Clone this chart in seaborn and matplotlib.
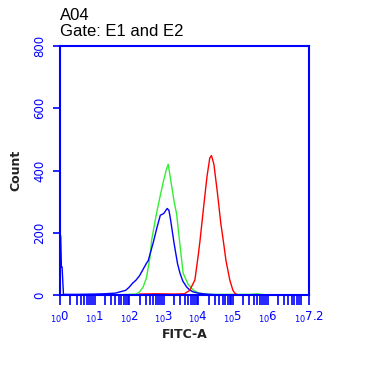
import numpy as np
import pandas as pd
from matplotlib import pyplot as plt
import seaborn as sns

blue_x = [0.0, 0.02, 0.04, 0.06, 0.1, 0.5, 1.0, 1.3, 1.6, 1.7, 1.8, 1.9, 2.0, 2.1, 2.2, 2.3,
          2.4, 2.5, 2.55, 2.6, 2.7, 2.8, 2.9, 3.0, 3.05, 3.1, 3.15, 3.2, 3.3, 3.4, 3.47,
          3.55, 3.66, 3.75, 3.85, 4.0, 4.2, 4.5, 5.0]
blue_y = [190, 190, 90, 90, 2, 2, 3, 4, 6, 9, 12, 15, 25, 38, 48, 62,
          82, 102, 110, 130, 170, 215, 256, 262, 270, 278, 272, 240, 165, 100, 70,
          45, 26, 16, 10, 6, 3, 1, 0]

green_x = [1.5, 2.2, 2.3, 2.4, 2.5, 2.6, 2.65, 2.72, 2.79, 2.9, 3.0, 3.08, 3.13, 3.2,
           3.3, 3.37, 3.45, 3.56, 3.7, 3.85, 4.0, 4.3, 5.5, 5.7, 5.9]
green_y = [0, 3, 10, 25, 55, 120, 176, 220, 262, 320, 370, 405, 420, 370,
           300, 262, 180, 70, 35, 16, 6, 2, 2, 4, 1]

red_x = [2.3, 2.8, 3.3, 3.6, 3.75, 3.9, 4.0, 4.05, 4.15, 4.25, 4.33, 4.38, 4.45,
         4.55, 4.65, 4.72, 4.8, 4.91, 5.0, 5.06, 5.15]
red_y = [3, 4, 3, 4, 15, 48, 130, 176, 280, 380, 440, 448, 420,
         330, 230, 176, 110, 48, 15, 5, 0]

series = {'green': (green_x, green_y, '#33ee33'),
          'blue': (blue_x, blue_y, '#0000ff'),
          'red': (red_x, red_y, '#ff0000')}

y_ticks = [0, 200, 400, 600, 800]
x_decades = [0, 1, 2, 3, 4, 5, 6]
x_max = 7.2

fig = plt.figure(figsize=(3.69, 3.84), dpi=100)
ax = fig.add_axes([60 / 369, (384 - 295) / 384, 249 / 369, 249 / 384])

for name, (xs, ys, col) in series.items():
    df = pd.DataFrame({'x': xs, 'count': ys})
    sns.lineplot(data=df, x='x', y='count', ax=ax, color=col, lw=1.0, sort=False)

ax.set_xlim(0, x_max)
ax.set_ylim(0, 800)

blue = '#0000ff'
for s in ax.spines.values():
    s.set_color(blue)
    s.set_linewidth(1.5)

# decade ticks + log minor ticks
ax.set_xticks(x_decades + [x_max])
ax.set_xticklabels([r'$_{10}$' + str(d) for d in x_decades] + [r'$_{10}$7.2'])
minor = [d + np.log10(k) for d in x_decades for k in range(2, 10)]
ax.set_xticks(minor, minor=True)
ax.tick_params(axis='x', which='both', direction='out', length=7, width=1.2,
               color=blue, labelcolor=blue, labelsize=8.5, pad=4)
ax.set_yticks(y_ticks)
ax.set_yticklabels([str(v) for v in y_ticks], rotation=90, va='center')
ax.tick_params(axis='y', direction='out', length=5, width=1.2,
               color=blue, labelcolor=blue, labelsize=8.5, pad=5)

ax.set_xlabel('FITC-A', fontsize=9, fontweight='bold', color='#222222', labelpad=2)
ax.set_ylabel('Count', fontsize=9, fontweight='bold', color='#222222', labelpad=8)

fig.text(60 / 369, 1 - 15 / 384, 'A04', fontsize=12, va='center', ha='left',
         family='Liberation Sans')
fig.text(60 / 369, 1 - 31 / 384, 'Gate: E1 and E2', fontsize=12, va='center', ha='left',
         family='Liberation Sans')

fig.savefig('out.png', dpi=100)
